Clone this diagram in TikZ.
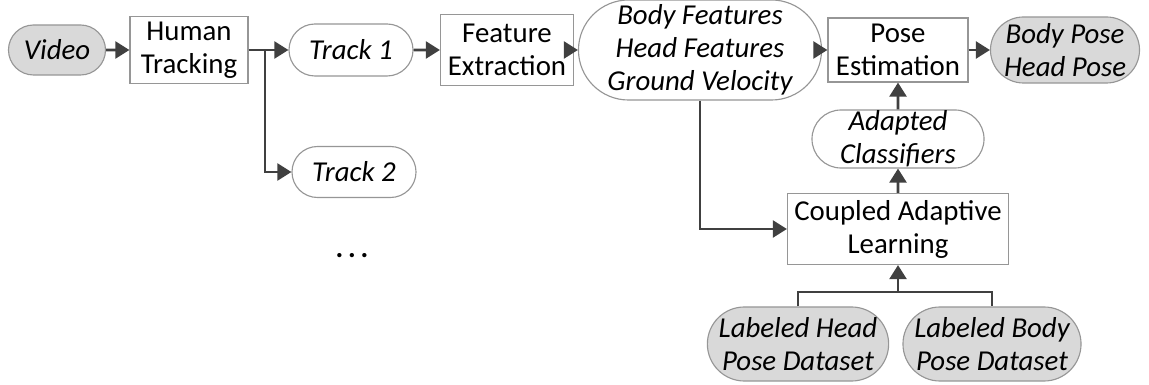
\documentclass[tikz,border=0pt]{standalone}
\usepackage{fontspec}
\setmainfont{Carlito}
\usetikzlibrary{arrows.meta,shapes.misc,positioning}
\definecolor{boxline}{RGB}{150,150,150}
\definecolor{pillfill}{RGB}{217,217,217}
\definecolor{arrowgray}{RGB}{64,64,64}
\newcommand{\diagfont}{\fontsize{20.5}{23.5}\selectfont}

\begin{document}
\begin{tikzpicture}[x=0.025cm,y=-0.025cm,>={Triangle[length=10pt,width=12pt]},
  every node/.style={font=\diagfont,align=center,inner sep=0pt}]
  \tikzstyle{process}=[rectangle,draw=boxline,line width=0.8pt,fill=white]
  \tikzstyle{data}=[rounded rectangle,draw=boxline,line width=0.8pt,fill=white,
                    font=\diagfont\itshape]
  \tikzstyle{source}=[data,fill=pillfill]
  \tikzstyle{flow}=[->,draw=arrowgray,line width=2pt]
  \tikzstyle{wire}=[draw=arrowgray,line width=2pt]

  \useasboundingbox (0,0) rectangle (1149,385);

  % Tracking stage.
  \node [source] (video) at (57,50) [minimum width=2.425cm,minimum height=1.25cm] {Video};
  \node [process] (ht) at (189,50) [minimum width=2.95cm,minimum height=1.675cm] {Human\\Tracking};
  \node [data] (t1) at (351,50) [minimum width=3.1cm,minimum height=1.3cm] {Track 1};
  \node [data] (t2) at (354,172) [minimum width=3.1cm,minimum height=1.275cm] {Track 2};
  \node (dots) at (352,256) {\textbf{.\,.\,.}};

  % Features and pose.
  \node [process] (fe) at (507,50) [minimum width=3.325cm,minimum height=1.775cm] {Feature\\Extraction};
  \node [data] (bf) at (700,50) [minimum width=5.125cm,minimum height=2.5cm] {Body Features\\Head Features\\Ground Velocity};
  \node [process] (pe) at (898,50) [minimum width=3.5cm,minimum height=1.6cm] {Pose\\Estimation};
  \node [source] (out) at (1065,50) [minimum width=3.7cm,minimum height=1.65cm] {Body Pose\\Head Pose};

  % Adaptation.
  \node [data] (ac) at (898,139) [minimum width=4.3cm,minimum height=1.45cm] {Adapted\\Classifiers};
  \node [process] (cal) at (898,229) [minimum width=5.525cm,minimum height=1.775cm] {Coupled Adaptive\\Learning};
  \node [source] (lh) at (798,344) [minimum width=4.3cm,minimum height=1.85cm] {Labeled Head\\Pose Dataset};
  \node [source] (lb) at (992,344) [minimum width=4.325cm,minimum height=1.85cm] {Labeled Body\\Pose Dataset};

  \coordinate (split) at (265,50);
  \coordinate (merge) at (898,292);

  \draw [flow] (video) -- (ht);
  \draw [wire] (ht) -- (split);
  \draw [flow] (split) -- (t1);
  \draw [flow] (split) |- (t2);
  \draw [flow] (t1) -- (fe);
  \draw [flow] (fe) -- (bf);
  \draw [flow] (bf) -- (pe);
  \draw [flow] (pe) -- (out);
  \draw [flow] (bf.south) |- (cal.west);
  \draw [flow] (cal) -- (ac);
  \draw [flow] (ac) -- (pe);
  \draw [wire] (lh.north) |- (merge) -| (lb.north);
  \draw [flow] (merge) -- (cal.south);
\end{tikzpicture}
\end{document}
